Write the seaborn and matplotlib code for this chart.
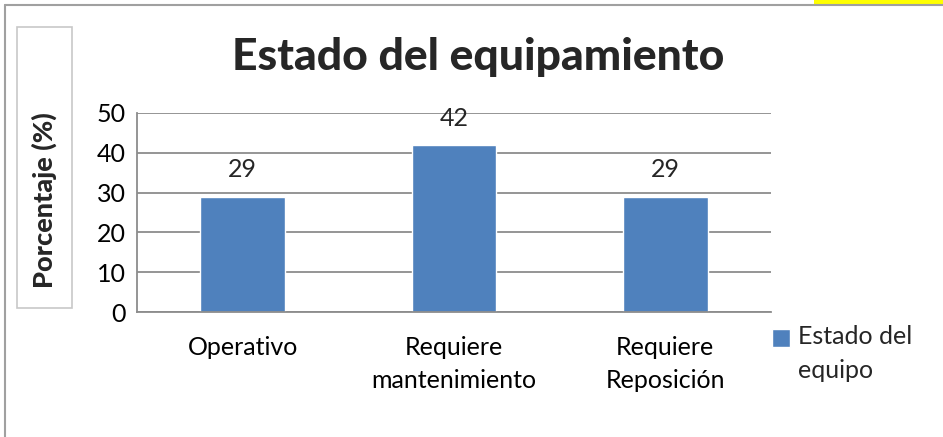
import seaborn as sns
import matplotlib.pyplot as plt
import pandas as pd
from matplotlib.patches import Rectangle
from matplotlib.lines import Line2D

# Data
categorias = ['Operativo', 'Requiere\nmantenimiento', 'Requiere\nReposición']
porcentajes = [29, 42, 29]
serie = 'Estado del\nequipo'
ticks_y = [0, 10, 20, 30, 40, 50]

df = pd.DataFrame({'categoria': categorias, 'porcentaje': porcentajes})

sns.set_style("white")
plt.rcParams['font.family'] = ['Lato', 'DejaVu Sans']

W, H = 943, 437
fig = plt.figure(figsize=(W / 100, H / 100), dpi=100)

# plot area in pixels: left 137, right 771, top 113, bottom 312
ax = fig.add_axes([137 / W, 1 - 312 / H, (771 - 137) / W, (312 - 113) / H])

sns.barplot(data=df, x='categoria', y='porcentaje', color='#4f81bd',
            width=0.4, saturation=1, label=serie, ax=ax)

ax.set_ylim(0, 50)
ax.set_xlim(-0.5, 2.5)
ax.set_yticks(ticks_y)
ax.yaxis.grid(True, color='#8c8c8c', linewidth=1.3)
ax.set_axisbelow(True)
ax.tick_params(axis='both', length=0, labelsize=18, colors='black')
ax.tick_params(axis='y', pad=8)
ax.tick_params(axis='x', pad=17)
for lbl in ax.get_xticklabels():
    lbl.set_linespacing(1.55)
ax.set_xlabel('')
ax.set_ylabel('')
for s in ['top', 'right']:
    ax.spines[s].set_visible(False)
for s in ['left', 'bottom']:
    ax.spines[s].set_color('#8c8c8c')
    ax.spines[s].set_linewidth(1.3)

ax.bar_label(ax.containers[0], padding=11, fontsize=18)

leg = ax.legend(loc='upper left', bbox_to_anchor=(772 / W, 1 - 325 / H),
                bbox_transform=fig.transFigure, frameon=False, fontsize=18,
                handlelength=0.7, handleheight=0.7, handletextpad=0.35,
                borderaxespad=0, borderpad=0)
leg.get_texts()[0].set_linespacing(1.6)
# align the square with the first line of the label, as in the original
hnd = leg.legend_handles[0]
hnd.set_y(hnd.get_y() + 12)

# title
fig.text(478 / W, 1 - 57 / H, 'Estado del equipamiento', ha='center', va='center',
         fontsize=32, fontweight='black')

# y label with its box
fig.add_artist(Rectangle((17 / W, 1 - 308 / H), 55 / W, 281 / H,
                         transform=fig.transFigure, fill=False,
                         edgecolor='#c8c8c8', linewidth=1.2))
fig.text(44 / W, 1 - 200 / H, 'Porcentaje (%)', rotation=90, ha='center',
         va='center', fontsize=19.5, fontweight='black')

# outer chart border and yellow strip
fig.add_artist(Line2D([5 / W, 1], [1 - 4.5 / H, 1 - 4.5 / H], transform=fig.transFigure,
                      color='#a0a0a0', linewidth=1.5))
fig.add_artist(Line2D([5 / W, 5 / W], [0, 1 - 4.5 / H], transform=fig.transFigure,
                      color='#a0a0a0', linewidth=1.5))
fig.add_artist(Rectangle((814 / W, 1 - 4 / H), 129 / W, 4 / H,
                         transform=fig.transFigure, color='#ffff00', linewidth=0))

fig.savefig('out.png', dpi=100)
